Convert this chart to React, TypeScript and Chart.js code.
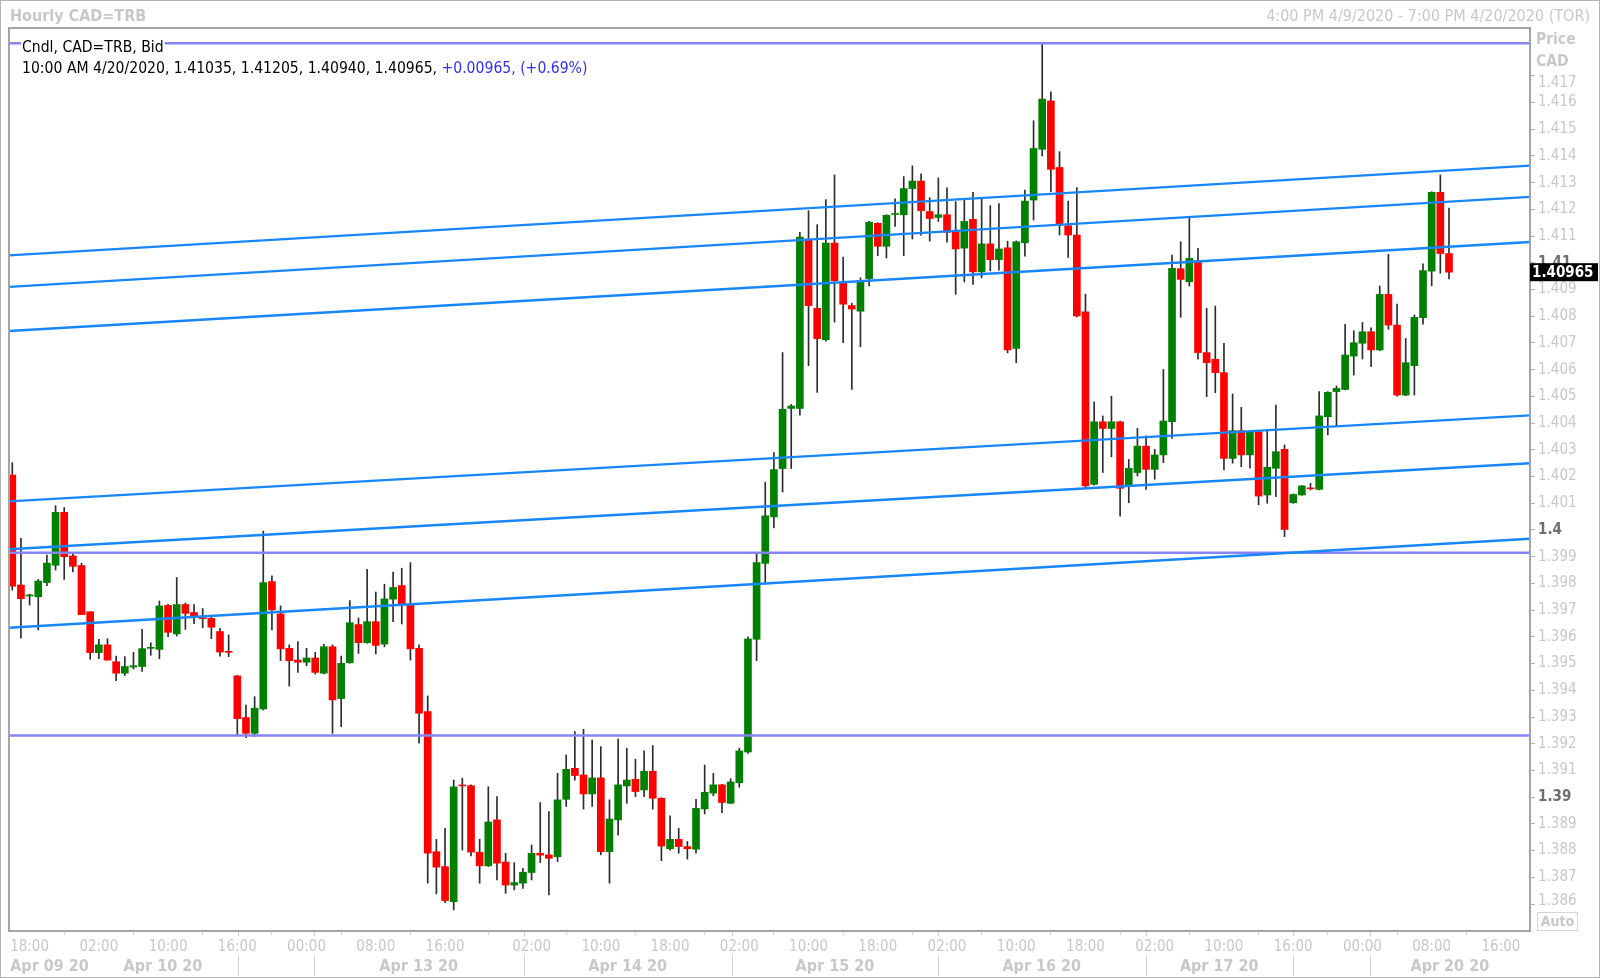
import React, { useEffect, useRef } from 'react';
import { Chart, registerables } from 'chart.js';
Chart.register(...registerables);

const FONT = '"DejaVu Sans Condensed", "Liberation Sans", sans-serif';

// Hourly candles, slot 0 = 4:00 PM Apr 9 2020, last = 10:00 AM Apr 20 2020
const OPEN = [
  1.40206, 1.39794, 1.39753, 1.39750, 1.39803, 1.39868, 1.40066, 1.39903, 1.39867, 1.39694,
  1.39541, 1.39570, 1.39507, 1.39464, 1.39487, 1.39489, 1.39557, 1.39553, 1.39718, 1.39611,
  1.39721, 1.39691, 1.39669, 1.39669, 1.39620, 1.39546, 1.39454, 1.39298, 1.39239, 1.39330,
  1.39807, 1.39686, 1.39557, 1.39513, 1.39505, 1.39521, 1.39464, 1.39563, 1.39369, 1.39503,
  1.39646, 1.39578, 1.39657, 1.39573, 1.39741, 1.39792, 1.39721, 1.39557, 1.39320, 1.38796,
  1.38740, 1.38609, 1.39043, 1.39043, 1.38794, 1.38743, 1.38915, 1.38757, 1.38671, 1.38678,
  1.38718, 1.38790, 1.38784, 1.38777, 1.38992, 1.39108, 1.39083, 1.39012, 1.39072, 1.38796,
  1.38915, 1.39042, 1.39067, 1.39027, 1.39097, 1.38996, 1.38807, 1.38842, 1.38815, 1.38805,
  1.38956, 1.39015, 1.39046, 1.38977, 1.39054, 1.39169, 1.39591, 1.39875, 1.40049, 1.40230,
  1.40455, 1.40455, 1.41089, 1.40830, 1.40712, 1.41074, 1.40926, 1.40840, 1.40819, 1.40941,
  1.41148, 1.41062, 1.41181, 1.41180, 1.41278, 1.41306, 1.41192, 1.41170, 1.41180, 1.41121,
  1.41055, 1.41163, 1.40966, 1.41071, 1.41012, 1.41056, 1.40680, 1.41075, 1.41235, 1.41425,
  1.41606, 1.41357, 1.41139, 1.41104, 1.40817, 1.40171, 1.40405, 1.40380, 1.40405, 1.40165,
  1.40215, 1.40314, 1.40227, 1.40281, 1.40405, 1.40978, 1.40929, 1.41008, 1.40664, 1.40639,
  1.40589, 1.40268, 1.40372, 1.40281, 1.40368, 1.40131, 1.40231, 1.40302, 1.40102, 1.40131,
  1.40155, 1.40152, 1.40424, 1.40518, 1.40526, 1.40651, 1.40699, 1.40742, 1.40674, 1.40882,
  1.40767, 1.40505, 1.40615, 1.40795, 1.40969, 1.41264, 1.41035,
];
const HIGH = [
  1.40252, 1.39969, 1.39760, 1.39815, 1.39906, 1.40091, 1.40084, 1.39909, 1.39876, 1.39694,
  1.39591, 1.39593, 1.39528, 1.39526, 1.39542, 1.39628, 1.39578, 1.39734, 1.39722, 1.39822,
  1.39727, 1.39721, 1.39706, 1.39673, 1.39632, 1.39607, 1.39456, 1.39345, 1.39376, 1.39996,
  1.39828, 1.39716, 1.39570, 1.39582, 1.39557, 1.39542, 1.39572, 1.39570, 1.39528, 1.39736,
  1.39671, 1.39853, 1.39768, 1.39797, 1.39842, 1.39857, 1.39878, 1.39570, 1.39379, 1.38842,
  1.38883, 1.39064, 1.39071, 1.39046, 1.38842, 1.39039, 1.39002, 1.38790, 1.38755, 1.38734,
  1.38821, 1.38980, 1.38946, 1.39089, 1.39158, 1.39245, 1.39254, 1.39214, 1.39189, 1.38990,
  1.39217, 1.39183, 1.39142, 1.39173, 1.39193, 1.38998, 1.38930, 1.38883, 1.38834, 1.38992,
  1.39120, 1.39089, 1.39048, 1.39069, 1.39183, 1.39600, 1.39913, 1.40179, 1.40290, 1.40664,
  1.40470, 1.41114, 1.41195, 1.41143, 1.41237, 1.41329, 1.41022, 1.40849, 1.40944, 1.41155,
  1.41150, 1.41180, 1.41240, 1.41323, 1.41363, 1.41333, 1.41244, 1.41318, 1.41281, 1.41229,
  1.41237, 1.41264, 1.41240, 1.41214, 1.41222, 1.41081, 1.41082, 1.41272, 1.41532, 1.41821,
  1.41640, 1.41416, 1.41231, 1.41282, 1.40883, 1.40480, 1.40427, 1.40501, 1.40408, 1.40264,
  1.40380, 1.40352, 1.40302, 1.40601, 1.41029, 1.41079, 1.41170, 1.41054, 1.40830, 1.40838,
  1.40699, 1.40509, 1.40459, 1.40372, 1.40372, 1.40377, 1.40468, 1.40318, 1.40135, 1.40166,
  1.40175, 1.40518, 1.40518, 1.40539, 1.40770, 1.40746, 1.40777, 1.40757, 1.40913, 1.41032,
  1.40846, 1.40717, 1.40805, 1.40996, 1.41266, 1.41329, 1.41205,
];
const LOW = [
  1.39775, 1.39595, 1.39719, 1.39626, 1.39792, 1.39850, 1.39815, 1.39843, 1.39683, 1.39516,
  1.39518, 1.39513, 1.39436, 1.39455, 1.39480, 1.39471, 1.39531, 1.39518, 1.39601, 1.39603,
  1.39628, 1.39649, 1.39634, 1.39593, 1.39528, 1.39526, 1.39230, 1.39223, 1.39227, 1.39326,
  1.39626, 1.39511, 1.39416, 1.39467, 1.39492, 1.39461, 1.39461, 1.39239, 1.39264, 1.39501,
  1.39538, 1.39576, 1.39536, 1.39563, 1.39657, 1.39648, 1.39513, 1.39202, 1.38678, 1.38638,
  1.38605, 1.38578, 1.38802, 1.38780, 1.38678, 1.38740, 1.38690, 1.38640, 1.38653, 1.38658,
  1.38690, 1.38755, 1.38634, 1.38759, 1.38965, 1.39064, 1.38955, 1.38965, 1.38784, 1.38678,
  1.38858, 1.38977, 1.39002, 1.39002, 1.38955, 1.38762, 1.38802, 1.38790, 1.38768, 1.38790,
  1.38937, 1.39005, 1.38942, 1.38975, 1.39037, 1.39164, 1.39511, 1.39801, 1.40008, 1.40142,
  1.40230, 1.40430, 1.40615, 1.40515, 1.40707, 1.40778, 1.40701, 1.40526, 1.40686, 1.40914,
  1.41027, 1.41018, 1.41136, 1.41027, 1.41089, 1.41104, 1.41081, 1.41155, 1.41077, 1.40882,
  1.40929, 1.40919, 1.40944, 1.40970, 1.40973, 1.40663, 1.40626, 1.41025, 1.41160, 1.41400,
  1.41266, 1.41104, 1.41020, 1.40798, 1.40156, 1.40168, 1.40215, 1.40274, 1.40052, 1.40102,
  1.40202, 1.40152, 1.40190, 1.40252, 1.40343, 1.40796, 1.40913, 1.40639, 1.40499, 1.40514,
  1.40225, 1.40250, 1.40237, 1.40231, 1.40094, 1.40100, 1.40125, 1.39975, 1.40100, 1.40130,
  1.40150, 1.40150, 1.40356, 1.40387, 1.40524, 1.40580, 1.40640, 1.40611, 1.40671, 1.40751,
  1.40501, 1.40503, 1.40505, 1.40770, 1.40914, 1.40961, 1.40940,
];
const CLOSE = [
  1.39790, 1.39743, 1.39757, 1.39809, 1.39876, 1.40066, 1.39900, 1.39864, 1.39683, 1.39541,
  1.39570, 1.39513, 1.39464, 1.39489, 1.39492, 1.39556, 1.39558, 1.39716, 1.39617, 1.39721,
  1.39688, 1.39676, 1.39668, 1.39636, 1.39543, 1.39542, 1.39294, 1.39239, 1.39333, 1.39803,
  1.39701, 1.39555, 1.39511, 1.39505, 1.39521, 1.39467, 1.39563, 1.39364, 1.39501, 1.39653,
  1.39578, 1.39657, 1.39568, 1.39742, 1.39785, 1.39721, 1.39555, 1.39314, 1.38790, 1.38738,
  1.38613, 1.39039, 1.39042, 1.38794, 1.38743, 1.38907, 1.38753, 1.38671, 1.38680, 1.38719,
  1.38790, 1.38783, 1.38771, 1.38990, 1.39104, 1.39081, 1.39012, 1.39072, 1.38796, 1.38918,
  1.39046, 1.39064, 1.39021, 1.39097, 1.38996, 1.38817, 1.38842, 1.38815, 1.38807, 1.38958,
  1.39018, 1.39046, 1.38980, 1.39057, 1.39173, 1.39592, 1.39878, 1.40053, 1.40226, 1.40452,
  1.40464, 1.41096, 1.40840, 1.40716, 1.41074, 1.40933, 1.40845, 1.40827, 1.40933, 1.41152,
  1.41062, 1.41178, 1.41182, 1.41278, 1.41306, 1.41195, 1.41166, 1.41180, 1.41114, 1.41052,
  1.41155, 1.40966, 1.41071, 1.41012, 1.41052, 1.40674, 1.41079, 1.41231, 1.41428, 1.41613,
  1.41350, 1.41141, 1.41104, 1.40801, 1.40165, 1.40405, 1.40380, 1.40405, 1.40156, 1.40231,
  1.40314, 1.40227, 1.40281, 1.40408, 1.40979, 1.40938, 1.41017, 1.40664, 1.40626, 1.40589,
  1.40268, 1.40372, 1.40281, 1.40368, 1.40127, 1.40235, 1.40293, 1.40002, 1.40133, 1.40165,
  1.40154, 1.40427, 1.40515, 1.40530, 1.40655, 1.40701, 1.40742, 1.40674, 1.40882, 1.40767,
  1.40505, 1.40626, 1.40796, 1.40971, 1.41264, 1.41035, 1.40965,
];

// Parallel trend lines (price at left edge / right edge of the plot)
const TREND_START = [1.41028, 1.40910, 1.40745, 1.40107, 1.39928, 1.39634];
const TREND_END = [1.41364, 1.41247, 1.41078, 1.40429, 1.40250, 1.39967];
// Horizontal levels
const LEVELS = [1.41822, 1.39915, 1.39231];

const X_MIN = -0.38;
const X_MAX = 175.36;
const Y_MIN = 1.38499;
const Y_MAX = 1.41879;

const TIME_TICK_SLOTS = [2, 10, 18, 26, 34, 42, 50, 60, 68, 76, 84, 92, 100, 108, 116, 124, 132, 140, 148, 156, 164, 172];
const TIME_TICK_LABELS = ['18:00', '02:00', '10:00', '16:00', '00:00', '08:00', '16:00', '02:00', '10:00', '18:00', '02:00', '10:00', '18:00', '02:00', '10:00', '18:00', '02:00', '10:00', '16:00', '00:00', '08:00', '16:00'];
const DATE_LABELS = ['Apr 09 20', 'Apr 10 20', 'Apr 13 20', 'Apr 14 20', 'Apr 15 20', 'Apr 16 20', 'Apr 17 20', 'Apr 20 20'];
const DATE_LABEL_SLOTS = [4.3, 17.4, 46.95, 71.1, 95.05, 118.95, 139.45, 166.1];
const DATE_SEPARATOR_SLOTS = [26.08, 34.86, 59.07, 83.15, 106.96, 130.98, 147.97, 156.87];

const PRICE_TICKS = [1.386, 1.387, 1.388, 1.389, 1.39, 1.391, 1.392, 1.393, 1.394, 1.395, 1.396, 1.397, 1.398, 1.399, 1.4, 1.401, 1.402, 1.403, 1.404, 1.405, 1.406, 1.407, 1.408, 1.409, 1.41, 1.411, 1.412, 1.413, 1.414, 1.415, 1.416, 1.417];
const PRICE_TICK_LABELS = ['1.386', '1.387', '1.388', '1.389', '1.39', '1.391', '1.392', '1.393', '1.394', '1.395', '1.396', '1.397', '1.398', '1.399', '1.4', '1.401', '1.402', '1.403', '1.404', '1.405', '1.406', '1.407', '1.408', '1.409', '1.41', '1.411', '1.412', '1.413', '1.414', '1.415', '1.416', '1.417'];

const LAST_PRICE = 1.40965;
const LAST_PRICE_LABEL = '1.40965';
const TITLE = 'Hourly CAD=TRB';
const RANGE_TEXT = '4:00 PM 4/9/2020 - 7:00 PM 4/20/2020 (TOR)';
const LEGEND_1 = 'Cndl, CAD=TRB, Bid';
const LEGEND_2A = '10:00 AM 4/20/2020, 1.41035, 1.41205, 1.40940, 1.40965, ';
const LEGEND_2B = '+0.00965, (+0.69%)';

const GRAY = '#c8c8c8';
const isRound = (i: number) => !!PRICE_TICK_LABELS[i] && PRICE_TICK_LABELS[i].length <= 4;

const decor = {
  id: 'decor',
  afterDraw(chart: any) {
    const c = chart.ctx as CanvasRenderingContext2D;
    const a = chart.chartArea;
    const xs = chart.scales.x;
    const ys = chart.scales.y;
    c.save();
    // plot frame
    c.strokeStyle = '#a4a4a4';
    c.lineWidth = 2;
    c.strokeRect(a.left, a.top, a.right - a.left, a.bottom - a.top);
    // outer frame
    c.strokeStyle = '#b4b4b4';
    c.lineWidth = 1;
    c.strokeRect(0.5, 0.5, chart.width - 1, chart.height - 1);

    // header
    c.textBaseline = 'middle';
    c.fillStyle = GRAY;
    c.font = `bold 16px ${FONT}`;
    c.textAlign = 'left';
    c.fillText(TITLE, 10, 17);
    c.font = `16px ${FONT}`;
    c.textAlign = 'right';
    c.fillText(RANGE_TEXT, 1590, 17);
    c.textAlign = 'left';
    c.font = `bold 15.5px ${FONT}`;
    c.fillText('Price', 1536, 40);
    c.fillText('CAD', 1536, 62);

    // end-of-axis price labels (shifted away from the header / Auto box)
    c.font = `15px ${FONT}`;
    c.fillStyle = GRAY;
    const nTicks = PRICE_TICKS.length;
    c.fillText(PRICE_TICK_LABELS[nTicks - 1], a.right + 8, ys.getPixelForValue(PRICE_TICKS[nTicks - 1]) + 7);
    c.fillText(PRICE_TICK_LABELS[0], a.right + 8, ys.getPixelForValue(PRICE_TICKS[0]) - 3);

    // legend
    c.font = `15.6px ${FONT}`;
    const w1 = c.measureText(LEGEND_1).width;
    c.fillStyle = '#ffffff';
    c.fillRect(21, 39, w1 + 2, 18);
    c.fillStyle = '#000000';
    c.fillText(LEGEND_1, 22, 48);
    c.fillText(LEGEND_2A, 22, 69);
    const w2 = c.measureText(LEGEND_2A).width;
    c.fillStyle = '#3030f0';
    c.fillText(LEGEND_2B, 22 + w2, 69);

    // date row + separators
    c.strokeStyle = '#d0d0d0';
    c.lineWidth = 1;
    DATE_SEPARATOR_SLOTS.forEach((s) => {
      const x = Math.round(xs.getPixelForValue(s)) + 0.5;
      c.beginPath();
      c.moveTo(x, a.bottom + 1);
      c.lineTo(x, a.bottom + 5);
      c.moveTo(x, a.bottom + 24);
      c.lineTo(x, a.bottom + 45);
      c.stroke();
    });
    c.fillStyle = GRAY;
    c.font = `bold 16px ${FONT}`;
    c.textAlign = 'center';
    DATE_LABELS.forEach((t, k) => {
      c.fillText(t, xs.getPixelForValue(DATE_LABEL_SLOTS[k]), a.bottom + 36);
    });

    // last price box
    const py = ys.getPixelForValue(LAST_PRICE);
    c.fillStyle = '#000000';
    c.fillRect(a.right, py - 9, 68, 18);
    c.fillStyle = '#ffffff';
    c.textAlign = 'left';
    c.font = `bold 15px ${FONT}`;
    c.fillText(LAST_PRICE_LABEL, a.right + 2, py + 0.5);

    // Auto box
    c.strokeStyle = '#d4d4d4';
    c.strokeRect(1537.5, 912.5, 40, 18);
    c.fillStyle = GRAY;
    c.textAlign = 'center';
    c.font = `bold 14px ${FONT}`;
    c.fillText('Auto', 1557.5, 922);
    c.restore();
  },
};

export default function App() {
  const ref = useRef<HTMLCanvasElement>(null);
  useEffect(() => {
    document.body.style.margin = '0';
    const canvas = ref.current!;
    const idx = OPEN.map((_, i) => i);
    const datasets: any[] = [
      ...TREND_START.map((s, k) => ({
        type: 'line',
        data: [{ x: X_MIN, y: s }, { x: X_MAX, y: TREND_END[k] }],
        borderColor: '#1786fb',
        borderWidth: 2.4,
        pointRadius: 0,
        fill: false,
        order: 0,
      })),
      ...LEVELS.map((v) => ({
        type: 'line',
        data: [{ x: X_MIN, y: v }, { x: X_MAX, y: v }],
        borderColor: '#8484f4',
        borderWidth: 2.6,
        pointRadius: 0,
        fill: false,
        order: 0,
      })),
      {
        type: 'bar',
        data: idx.map((i) => ({ x: i, y: [LOW[i], HIGH[i]] })),
        backgroundColor: '#2c2c2c',
        barThickness: 1,
        grouped: false,
        order: 2,
      },
      {
        type: 'bar',
        data: idx.map((i) => ({ x: i, y: [OPEN[i], CLOSE[i]] })),
        backgroundColor: idx.map((i) => (CLOSE[i] >= OPEN[i] ? '#008000' : '#ff0000')),
        barThickness: 7,
        minBarLength: 1,
        grouped: false,
        order: 1,
      },
    ];
    const chart = new Chart(canvas, {
      type: 'bar',
      data: { datasets },
      options: {
        animation: false,
        responsive: false,
        devicePixelRatio: 1,
        events: [],
        layout: { padding: { top: 28, left: 9, right: 0, bottom: 0 } },
        plugins: { legend: { display: false }, tooltip: { enabled: false }, title: { display: false } },
        scales: {
          x: {
            type: 'linear',
            min: X_MIN,
            max: X_MAX,
            offset: false,
            bounds: 'data',
            afterBuildTicks: (s: any) => {
              s.ticks = TIME_TICK_SLOTS.map((v) => ({ value: v }));
            },
            afterFit: (s: any) => {
              s.height = 47;
            },
            ticks: {
              autoSkip: false,
              maxRotation: 0,
              minRotation: 0,
              padding: 3,
              color: GRAY,
              font: { family: FONT, size: 15 },
              callback: (_v: any, i: number) => TIME_TICK_LABELS[i],
            },
            grid: { display: true, drawOnChartArea: false, drawTicks: true, tickLength: 4, color: '#d0d0d0' },
            border: { display: false },
          },
          y: {
            type: 'linear',
            position: 'right',
            min: Y_MIN,
            max: Y_MAX,
            bounds: 'data',
            afterBuildTicks: (s: any) => {
              s.ticks = PRICE_TICKS.map((v) => ({ value: v }));
            },
            afterFit: (s: any) => {
              s.width = 70;
            },
            ticks: {
              padding: 3,
              // first and last labels are drawn by the decor plugin, nudged like the original
              callback: (_v: any, i: number) => (i === 0 || i === PRICE_TICKS.length - 1 ? '' : PRICE_TICK_LABELS[i]),
              color: (ctx: any) => (isRound(ctx.index) ? '#6e6e6e' : GRAY),
              font: (ctx: any) => ({ family: FONT, size: 15, weight: isRound(ctx.index) ? 'bold' : 'normal' }),
            },
            grid: { display: true, drawOnChartArea: false, drawTicks: true, tickLength: 5, color: '#b4b4b4' },
            border: { display: false },
          },
        },
      },
      plugins: [decor],
    } as any);
    return () => chart.destroy();
  }, []);
  return (
    <div style={{ position: 'absolute', left: 0, top: 0, width: 1600, height: 978, background: '#fff' }}>
      <canvas ref={ref} width={1600} height={978} style={{ width: 1600, height: 978, display: 'block' }} />
    </div>
  );
}
